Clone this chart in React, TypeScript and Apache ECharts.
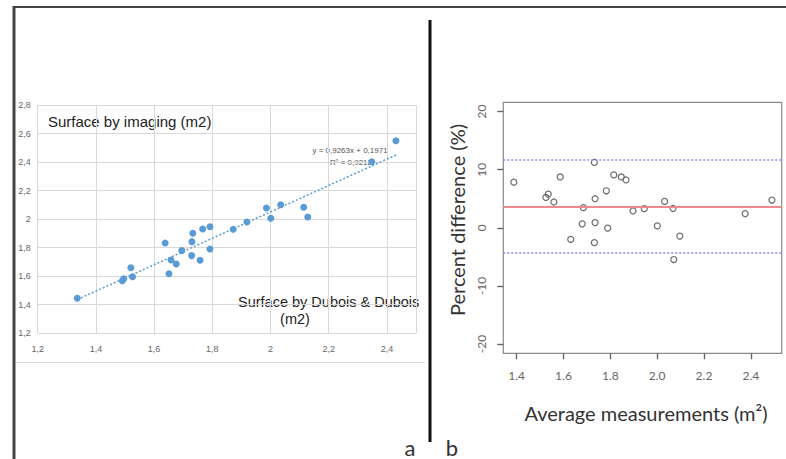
import React, { useEffect, useRef } from "react";
import * as echarts from "echarts";

// Panel a: surface by Dubois & Dubois (x) vs surface by imaging (y)
const duboisX = [1.336, 1.491, 1.496, 1.52, 1.526, 1.638, 1.651, 1.658, 1.676, 1.695, 1.733, 1.73, 1.729, 1.767, 1.758, 1.792, 1.792, 1.872, 1.919, 1.986, 2.001, 2.035, 2.114, 2.128, 2.348, 2.431];
const imagingY = [1.444, 1.567, 1.581, 1.658, 1.595, 1.832, 1.616, 1.712, 1.684, 1.778, 1.9, 1.841, 1.743, 1.93, 1.71, 1.946, 1.789, 1.928, 1.979, 2.077, 2.005, 2.1, 2.082, 2.014, 2.402, 2.549];
const trendX = [1.336, 2.431];
const trendY = [1.4346, 2.449];

// Panel b: Bland-Altman
const avgX = [1.388, 1.525, 1.535, 1.559, 1.586, 1.631, 1.68, 1.685, 1.732, 1.735, 1.735, 1.732, 1.783, 1.789, 1.815, 1.847, 1.867, 1.897, 1.945, 2.001, 2.032, 2.068, 2.071, 2.097, 2.376, 2.49];
const pctDiff = [7.85, 5.22, 5.8, 4.44, 8.75, -2.0, 0.68, 3.46, 11.26, 5.0, 0.9, -2.56, 6.37, -0.06, 9.1, 8.75, 8.24, 2.9, 3.29, 0.34, 4.54, 3.35, -5.46, -1.43, 2.44, 4.78];
const meanLine = [3.69];
const limitLines = [11.66, -4.27];
// R axis extents (data range + 4%) and tick ranges
const rXRange = [1.343, 2.532];
const rYRange = [-21.6, 21.6];
const rXTickRange = [1.4, 2.4];
const rYTickRange = [-20, 20];

export default function App() {
  const ref = useRef<HTMLDivElement>(null);
  useEffect(() => {
    if (!ref.current) return;
    const chart = echarts.init(ref.current, null, { renderer: "svg" });
    const fmtComma = (v: number) => (Math.round(v * 10) / 10).toString().replace(".", ",");
    const excelFont = "Liberation Sans, Arial, sans-serif";
    const rFont = "Lato, 'Noto Sans', sans-serif";

    // box of panel b in pixels
    const boxL = 503.3, boxT = 102.3, boxW = 278.4, boxH = 251;
    const pxX = (v: number) => boxL + ((v - rXRange[0]) / (rXRange[1] - rXRange[0])) * boxW;
    const pxY = (v: number) => boxT + ((rYRange[1] - v) / (rYRange[1] - rYRange[0])) * boxH;
    const tL = pxX(rXTickRange[0]);
    const tR = pxX(rXTickRange[1]);
    const tT = pxY(rYTickRange[1]);
    const tB = pxY(rYTickRange[0]);
    const hidden = (gridIndex: number) => ({ gridIndex, type: "value", min: 0, max: 1, show: false });

    chart.setOption({
      animation: false,
      grid: [
        { left: 37.7, top: 105, width: 378.3, height: 228 },
        { left: boxL, top: boxT, width: boxW, height: boxH, show: true, borderColor: "#8a8a8a", borderWidth: 1.2, backgroundColor: "transparent" },
        { left: tL, top: boxT, width: tR - tL, height: boxH },
        { left: boxL, top: tT, width: boxW, height: tB - tT },
      ],
      xAxis: [
        {
          gridIndex: 0, type: "value", min: 1.2, max: 2.5, interval: 0.2,
          axisLine: { show: false, onZero: false }, axisTick: { show: false },
          splitLine: { show: true, lineStyle: { color: "#d9d9d9", width: 1 } },
          axisLabel: { showMaxLabel: false, fontSize: 9, color: "#666", fontFamily: excelFont, margin: 11, formatter: (v: number) => fmtComma(v) },
        },
        {
          gridIndex: 1, type: "value", min: rXRange[0], max: rXRange[1],
          axisLine: { show: false, onZero: false }, axisTick: { show: false }, axisLabel: { show: false }, splitLine: { show: false },
        },
        {
          gridIndex: 2, type: "value", min: rXTickRange[0], max: rXTickRange[1], interval: 0.2, position: "bottom",
          axisLine: { show: false, onZero: false },
          axisTick: { show: true, length: 6, lineStyle: { color: "#666", width: 1.4 } },
          splitLine: { show: false },
          axisLabel: { fontSize: 12, color: "#666", fontFamily: rFont, margin: 16, formatter: (v: number) => v.toFixed(1) },
        },
        hidden(3),
      ],
      yAxis: [
        {
          gridIndex: 0, type: "value", min: 1.2, max: 2.8, interval: 0.2,
          axisLine: { show: false, onZero: false }, axisTick: { show: false },
          splitLine: { show: true, lineStyle: { color: "#d9d9d9", width: 1 } },
          axisLabel: { fontSize: 9, color: "#666", fontFamily: excelFont, margin: 7, formatter: (v: number) => fmtComma(v) },
        },
        {
          gridIndex: 1, type: "value", min: rYRange[0], max: rYRange[1],
          axisLine: { show: false, onZero: false }, axisTick: { show: false }, axisLabel: { show: false }, splitLine: { show: false },
        },
        hidden(2),
        {
          gridIndex: 3, type: "value", min: rYTickRange[0], max: rYTickRange[1], interval: 10, position: "left",
          axisLine: { show: false, onZero: false },
          axisTick: { show: true, length: 6, lineStyle: { color: "#666", width: 1.4 } },
          splitLine: { show: false },
          axisLabel: { rotate: 90, fontSize: 12, color: "#666", fontFamily: rFont, margin: 16 },
        },
      ],
      series: [
        {
          type: "line", xAxisIndex: 0, yAxisIndex: 0,
          data: trendX.map((x, i) => [x, trendY[i]]),
          symbol: "none", lineStyle: { color: "#5b9bd5", width: 1.5, type: [2, 2] }, z: 1,
        },
        {
          type: "scatter", xAxisIndex: 0, yAxisIndex: 0,
          data: duboisX.map((x, i) => [x, imagingY[i]]),
          symbolSize: 7, itemStyle: { color: "#5b9bd5", opacity: 1 }, z: 2,
        },
        {
          type: "scatter", xAxisIndex: 1, yAxisIndex: 1,
          data: avgX.map((x, i) => [x, pctDiff[i]]),
          symbolSize: 6,
          itemStyle: { color: "rgba(0,0,0,0)", borderColor: "#6a6a6a", borderWidth: 1.2, opacity: 1 },
          markLine: {
            silent: true, symbol: "none", label: { show: false },
            data: [
              ...meanLine.map((v) => ({ yAxis: v, lineStyle: { color: "#f08a8a", width: 2, type: "solid" } })),
              ...limitLines.map((v) => ({ yAxis: v, lineStyle: { color: "#8c8cf5", width: 1.6, type: [2, 2] } })),
            ],
          },
        },
      ],
      graphic: [
        { type: "line", shape: { x1: 13, y1: 7, x2: 786, y2: 7 }, style: { stroke: "#444", lineWidth: 2 } },
        { type: "line", shape: { x1: 14, y1: 6, x2: 14, y2: 459 }, style: { stroke: "#444", lineWidth: 3 } },
        { type: "line", shape: { x1: 430, y1: 20, x2: 430, y2: 442 }, style: { stroke: "#111", lineWidth: 3 } },
        { type: "line", shape: { x1: 16, y1: 362.5, x2: 425, y2: 362.5 }, style: { stroke: "#dcdcdc", lineWidth: 1 } },
        { type: "text", x: 48, y: 121, style: { text: "Surface by imaging (m2)", fontSize: 15, fontFamily: excelFont, fill: "#222", verticalAlign: "middle" } },
        { type: "text", x: 238, y: 302, style: { text: "Surface by Dubois & Dubois", fontSize: 14.5, fontFamily: excelFont, fill: "#222", verticalAlign: "middle" } },
        { type: "text", x: 295, y: 319, style: { text: "(m2)", fontSize: 14.5, fontFamily: excelFont, fill: "#222", align: "center", verticalAlign: "middle" } },
        { type: "text", x: 350, y: 150, style: { text: "y = 0,9263x + 0,1971", fontSize: 8, fontFamily: excelFont, fill: "#555", align: "center", verticalAlign: "middle" } },
        { type: "text", x: 351, y: 162, style: { text: "R² = 0,9212", fontSize: 8, fontFamily: excelFont, fill: "#555", align: "center", verticalAlign: "middle" } },
        { type: "text", x: 646, y: 413, style: { text: "Average measurements (m²)", fontSize: 20, fontFamily: rFont, fill: "#333", align: "center", verticalAlign: "middle" } },
        { type: "text", x: 457, y: 220, rotation: Math.PI / 2, style: { text: "Percent difference (%)", fontSize: 20, fontFamily: rFont, fill: "#333", align: "center", verticalAlign: "middle" } },
        { type: "text", x: 410, y: 447, style: { text: "a", fontSize: 22, fontFamily: rFont, fill: "#333", align: "center", verticalAlign: "middle" } },
        { type: "text", x: 452, y: 447, style: { text: "b", fontSize: 22, fontFamily: rFont, fill: "#333", align: "center", verticalAlign: "middle" } },
      ],
    });
    return () => chart.dispose();
  }, []);
  return (
    <div
      ref={ref}
      style={{ position: "absolute", left: 0, top: 0, width: 786, height: 459, background: "#fff" }}
    />
  );
}
